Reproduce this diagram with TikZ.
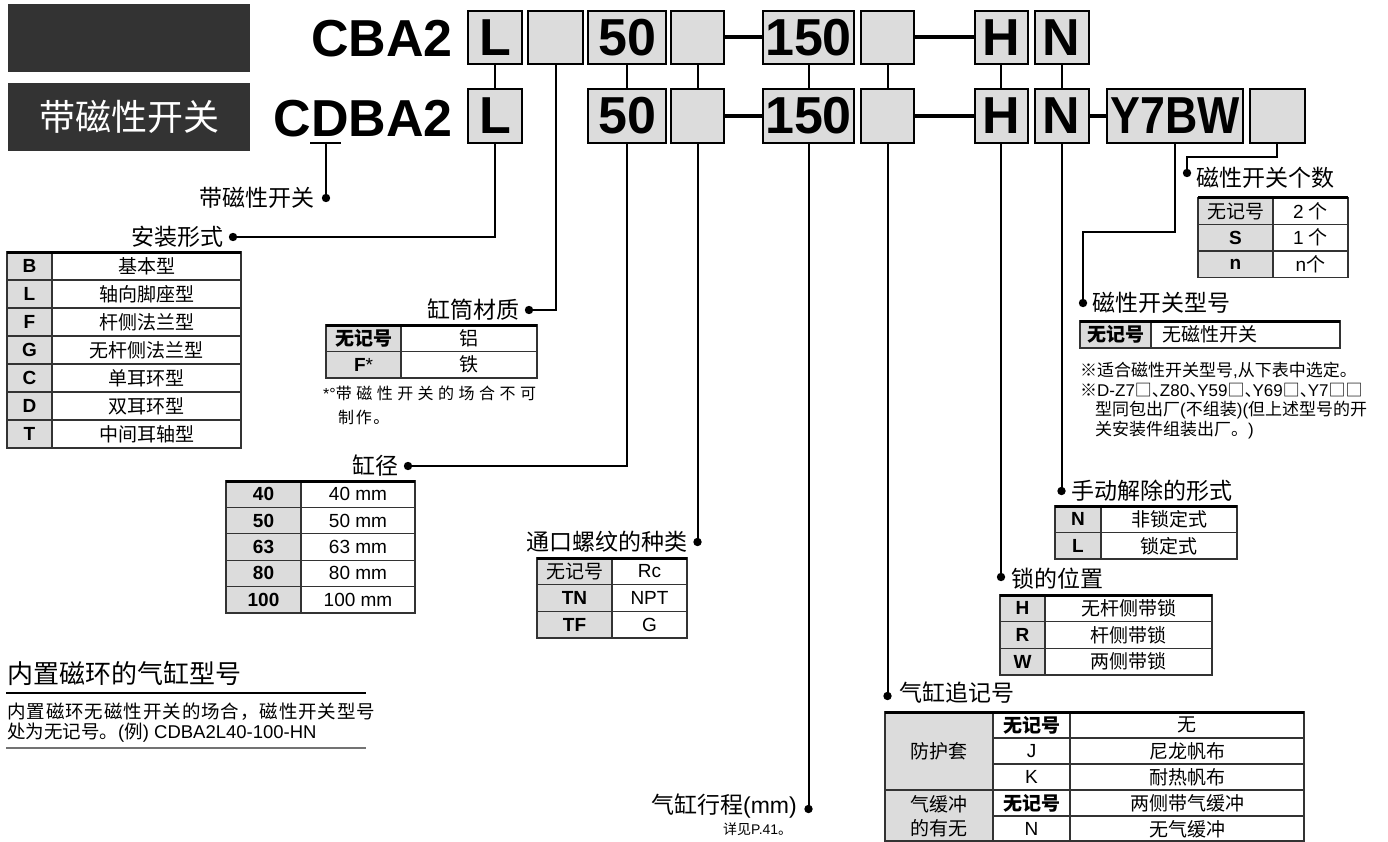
\documentclass[tikz,border=0pt]{standalone}
\usepackage{graphicx}
\usepackage{fontspec}
\setmainfont{Liberation Sans}
\newfontfamily\cjk{Noto Sans CJK SC}
\newcommand\myfs[1]{\fontsize{#1}{#1}\selectfont}
\newcommand\mydun{\makebox[8pt][l]{\cjk 、}}
\definecolor{darkbg}{HTML}{333333}
\definecolor{cellgray}{HTML}{DCDCDC}
\newcommand\tbl[6]{%
  \pgfmathsetmacro\tbottom{#4+#5*#6}%
  \fill[cellgray] (#1,#4) rectangle (#2,\tbottom);
  \foreach \k in {1,...,#6}{\draw[gridline] (#1,{#4+#5*\k}) -- (#3,{#4+#5*\k});}
  \draw[gridline] (#1,#4) rectangle (#3,\tbottom);
  \draw[gridline] (#2,#4) -- (#2,\tbottom);
  \draw[topline] (#1,#4) -- (#3,#4);
}
\newcommand\trow[6]{\node[cell] (#1a) at (#3,#2) {#5}; \node[cell] (#1b) at (#4,#2) {#6};}
\begin{document}
\begin{tikzpicture}[x=1pt,y=-1pt,
 codebox/.style={draw=black,line width=2pt,fill=cellgray,inner sep=0,font=\myfs{52}\bfseries},
 conn/.style={line width=2pt},
 joinline/.style={line width=4pt},
 lbl/.style={inner sep=0,font=\cjk\myfs{23}},
 cell/.style={inner sep=0,font=\myfs{19}},
 gridline/.style={line width=1.3pt,draw=black!80},
 topline/.style={line width=3pt},
 note/.style={inner sep=0,font=\myfs{17},anchor=west},
 dot/.style={fill=black}
]
\useasboundingbox (0,0) rectangle (1388,842);

% dark header boxes
\node[fill=darkbg,minimum width=242pt,minimum height=68pt,inner sep=0] (hd1) at (129,38) {};
\node[fill=darkbg,minimum width=242pt,minimum height=68pt,inner sep=0,text=white,font=\cjk\myfs{36}] (hd2) at (129,117) {带磁性开关};

% model texts
\node[anchor=base east,inner sep=0,font=\myfs{52}\bfseries] (cba) at (453,57) {CBA2};
\node[anchor=base east,inner sep=0,font=\myfs{52}\bfseries] (cdba) at (453,137) {CDBA2};

% top row boxes
\node[codebox,minimum width=54pt,minimum height=53pt] (tL) at (495,37.5) {L};
\node[codebox,minimum width=55pt,minimum height=53pt] (tB2) at (555.5,37.5) {};
\node[codebox,minimum width=78pt,minimum height=53pt] (t50) at (627,37.5) {50};
\node[codebox,minimum width=53pt,minimum height=53pt] (tB4) at (697.5,37.5) {};
\node[codebox,minimum width=91pt,minimum height=53pt] (t150) at (808.5,37.5) {150};
\node[codebox,minimum width=53pt,minimum height=53pt] (tB6) at (887.5,37.5) {};
\node[codebox,minimum width=53pt,minimum height=53pt] (tH) at (1001,37.5) {H};
\node[codebox,minimum width=54pt,minimum height=53pt] (tN) at (1061.5,37.5) {N};

% bottom row boxes
\node[codebox,minimum width=54pt,minimum height=54pt] (bL) at (495,116) {L};
\node[codebox,minimum width=78pt,minimum height=54pt] (b50) at (627,116) {50};
\node[codebox,minimum width=53pt,minimum height=54pt] (bB4) at (697.5,116) {};
\node[codebox,minimum width=91pt,minimum height=54pt] (b150) at (808.5,116) {150};
\node[codebox,minimum width=53pt,minimum height=54pt] (bB6) at (887.5,116) {};
\node[codebox,minimum width=53pt,minimum height=54pt] (bH) at (1001,116) {H};
\node[codebox,minimum width=54pt,minimum height=54pt] (bN) at (1061.5,116) {N};
\node[codebox,minimum width=136pt,minimum height=54pt] (bY) at (1175,116) {\scalebox{0.86}[1]{Y7BW}};
\node[codebox,minimum width=55pt,minimum height=54pt] (bS) at (1277,116) {};

% joins
\draw[joinline] (tB4.east) -- (t150.west);
\draw[joinline] (tB6.east) -- (tH.west);
\draw[joinline] (bB4.east) -- (b150.west);
\draw[joinline] (bB6.east) -- (bH.west);
\draw[joinline] (bN.east) -- (bY.west);

% row-to-row verticals
\draw[conn] (tL.south) -- (bL.north);
\draw[conn] (t50.south) -- (b50.north);
\draw[conn] (tB4.south) -- (bB4.north);
\draw[conn] (t150.south) -- (b150.north);
\draw[conn] (tB6.south) -- (bB6.north);
\draw[conn] (tH.south) -- (bH.north);
\draw[conn] (tN.south) -- (bN.north);

% bullet coordinates
\coordinate (uL) at (310,143);
\coordinate (uR) at (341,143);
\coordinate (uM) at (326,143);
\coordinate (dD) at (326,198);
\coordinate (dL) at (233,237);
\coordinate (dB2) at (529,310);
\coordinate (d50) at (408,466);
\coordinate (dB4) at (697.5,542);
\coordinate (d150) at (808.5,809);
\coordinate (dB6) at (887.5,696);
\coordinate (dH) at (1001,577);
\coordinate (dN) at (1061.5,491);
\coordinate (yk) at (1083,232);
\coordinate (dY) at (1083,303);
\coordinate (sk) at (1187,157);
\coordinate (dS) at (1187,173);

% connectors
\draw[conn] (uL) -- (uR);
\draw[conn] (uM) -- (dD);
\draw[conn] (bL.south) |- (dL);
\draw[conn] (tB2.south) |- (dB2);
\draw[conn] (b50.south) |- (d50);
\draw[conn] (bB4.south) -- (dB4);
\draw[conn] (b150.south) -- (d150);
\draw[conn] (bB6.south) -- (dB6);
\draw[conn] (bH.south) -- (dH);
\draw[conn] (bN.south) -- (dN);
\draw[conn] (bY.south) |- (yk) -- (dY);
\draw[conn] (bS.south) |- (sk) -- (dS);
\foreach \p in {dD,dL,dB2,d50,dB4,d150,dB6,dH,dN,dY,dS}{\fill[dot] (\p) circle (4.2pt);}

% labels
\node[lbl,anchor=east] (lD) at (315,198) {带磁性开关};
\node[lbl,anchor=east] (lL) at (224,237) {安装形式};
\node[lbl,anchor=east] (lB2) at (520,310) {缸筒材质};
\node[lbl,anchor=east] (l50) at (399,466) {缸径};
\node[lbl,anchor=east] (lB4) at (688,542) {通口螺纹的种类};
\node[lbl,anchor=east] (l150) at (797,806) {气缸行程\myfs{23}\rmfamily(mm)};
\node[inner sep=0,anchor=west,font=\myfs{14}] (l150n) at (723,829) {{\cjk 详见}P.41{\cjk 。}};
\node[lbl,anchor=west] (lB6) at (899,693) {气缸追记号};
\node[lbl,anchor=west] (lH) at (1011,579) {锁的位置};
\node[lbl,anchor=west] (lN) at (1071,491) {手动解除的形式};
\node[lbl,anchor=west] (lY) at (1092,303) {磁性开关型号};
\node[lbl,anchor=west] (lS) at (1196,178) {磁性开关个数};

% table: mounting
\tbl{7}{52}{241}{252}{28}{7}
\trow{ma1}{266}{29.5}{146.5}{\bfseries B}{\cjk 基本型}
\trow{ma2}{294}{29.5}{146.5}{\bfseries L}{\cjk 轴向脚座型}
\trow{ma3}{322}{29.5}{146.5}{\bfseries F}{\cjk 杆侧法兰型}
\trow{ma4}{350}{29.5}{146.5}{\bfseries G}{\cjk 无杆侧法兰型}
\trow{ma5}{378}{29.5}{146.5}{\bfseries C}{\cjk 单耳环型}
\trow{ma6}{406}{29.5}{146.5}{\bfseries D}{\cjk 双耳环型}
\trow{ma7}{434}{29.5}{146.5}{\bfseries T}{\cjk 中间耳轴型}

% table: tube material
\tbl{326}{401}{537}{325}{26.5}{2}
\trow{tm1}{338.25}{363.5}{469}{\cjk\bfseries 无记号}{\cjk 铝}
\trow{tm2}{364.75}{363.5}{469}{\textbf{F}*}{\cjk 铁}
\node[inner sep=0,anchor=west,font=\myfs{16}] (tmn1) at (323,393) {*°{\cjk\addfontfeature{LetterSpace=28}带磁性开关的场合不可}};
\node[inner sep=0,anchor=west,font=\cjk\myfs{16}\addfontfeature{LetterSpace=10}] (tmn2) at (338,417) {制作。};

% table: bore
\tbl{226}{301}{415}{481}{26.4}{5}
\trow{bo1}{494.2}{263.5}{358}{\bfseries 40}{40 mm}
\trow{bo2}{520.6}{263.5}{358}{\bfseries 50}{50 mm}
\trow{bo3}{547}{263.5}{358}{\bfseries 63}{63 mm}
\trow{bo4}{573.4}{263.5}{358}{\bfseries 80}{80 mm}
\trow{bo5}{599.8}{263.5}{358}{\bfseries 100}{100 mm}

% table: port thread
\tbl{537}{612}{687}{558}{26.7}{3}
\trow{pt1}{571.3}{574.5}{649.5}{\cjk 无记号}{Rc}
\trow{pt2}{598}{574.5}{649.5}{\bfseries TN}{NPT}
\trow{pt3}{624.7}{574.5}{649.5}{\bfseries TF}{G}

% table: switch count
\tbl{1198}{1273}{1348}{198}{26.5}{3}
\trow{sc1}{211.25}{1235.5}{1310.5}{\cjk 无记号}{2 {\cjk 个}}
\trow{sc2}{237.75}{1235.5}{1310.5}{\bfseries S}{1 {\cjk 个}}
\trow{sc3}{264.25}{1235.5}{1310.5}{\bfseries n}{n{\cjk 个}}

% table: switch model
\tbl{1080}{1151}{1340}{321}{27}{1}
\node[cell] (sm1a) at (1115.5,334.5) {\cjk\bfseries 无记号};
\node[cell,anchor=west] (sm1b) at (1162,334.5) {\cjk 无磁性开关};
\node[note] (smn1) at (1080,370) {{\cjk ※适合磁性开关型号},{\cjk 从下表中选定。}};
\node[note] (smn2) at (1080,390) {{\cjk ※}D-Z7{\cjk □}\mydun Z80\mydun Y59{\cjk □}\mydun Y69{\cjk □}\mydun Y7{\cjk □□}};
\node[note] (smn3) at (1095,410) {{\cjk 型同包出厂}({\cjk 不组装})({\cjk 但上述型号的开}};
\node[note] (smn4) at (1095,430) {{\cjk 关安装件组装出厂。})};

% table: manual release
\tbl{1055}{1101}{1237}{506}{26.5}{2}
\trow{mr1}{519.25}{1078}{1169}{\bfseries N}{\cjk 非锁定式}
\trow{mr2}{545.75}{1078}{1169}{\bfseries L}{\cjk 锁定式}

% table: lock position
\tbl{1000}{1045}{1212}{595}{26.7}{3}
\trow{lp1}{608.3}{1022.5}{1128.5}{\bfseries H}{\cjk 无杆侧带锁}
\trow{lp2}{635}{1022.5}{1128.5}{\bfseries R}{\cjk 杆侧带锁}
\trow{lp3}{661.7}{1022.5}{1128.5}{\bfseries W}{\cjk 两侧带锁}

% table: suffix
\fill[cellgray] (885,712) rectangle (993,841);
\draw[gridline] (885,712) rectangle (1304,841);
\draw[gridline] (993,712) -- (993,841);
\draw[gridline] (1070,712) -- (1070,841);
\draw[gridline] (993,738) -- (1304,738);
\draw[gridline] (993,764) -- (1304,764);
\draw[gridline] (885,790) -- (1304,790);
\draw[gridline] (993,816) -- (1304,816);
\draw[topline] (885,712) -- (1304,712);
\node[cell,font=\cjk\myfs{19}] (sfa1) at (939,751) {防护套};
\node[cell,font=\cjk\myfs{19},align=center] (sfa2) at (939,816) {气缓冲\\[5pt]的有无};
\node[cell] (sf1a) at (1031.5,725) {\cjk\bfseries 无记号};
\node[cell] (sf1b) at (1187,725) {\cjk 无};
\node[cell] (sf2a) at (1031.5,751) {J};
\node[cell] (sf2b) at (1187,751) {\cjk 尼龙帆布};
\node[cell] (sf3a) at (1031.5,777) {K};
\node[cell] (sf3b) at (1187,777) {\cjk 耐热帆布};
\node[cell] (sf4a) at (1031.5,803) {\cjk\bfseries 无记号};
\node[cell] (sf4b) at (1187,803) {\cjk 两侧带气缓冲};
\node[cell] (sf5a) at (1031.5,829) {N};
\node[cell] (sf5b) at (1187,829) {\cjk 无气缓冲};

% built-in magnet section
\node[inner sep=0,anchor=west,font=\cjk\myfs{26}] (bm) at (7,673) {内置磁环的气缸型号};
\draw[line width=2pt] (6,693) -- (366,693);
\node[inner sep=0,anchor=west,font=\myfs{18.5}] (bm1) at (7,712) {{\cjk\addfontfeature{LetterSpace=5}内置磁环无磁性开关的场合，磁性开关型号}};
\node[inner sep=0,anchor=west,font=\myfs{18.5}] (bm2) at (7,733) {{\cjk 处为无记号。}({\cjk 例}) CDBA2L40-100-HN};
\draw[line width=2pt,draw=black!55] (6,748) -- (366,748);
\end{tikzpicture}
\end{document}
